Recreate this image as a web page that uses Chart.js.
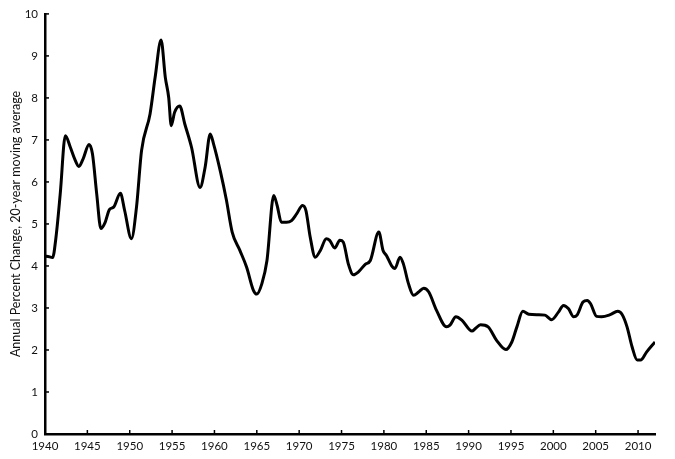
<!DOCTYPE html>
<html>
<head>
<meta charset="utf-8">
<script src="https://cdn.jsdelivr.net/npm/chart.js@4/dist/chart.umd.min.js"></script>
<style>
  html, body { margin: 0; padding: 0; background: #fff; }
  #wrap { width: 675px; height: 459px; }
</style>
</head>
<body>
<div id="wrap"><canvas id="chart" width="675" height="459"></canvas></div>
<script>
// values
const years = [1940.0,1940.2,1940.9,1941.3,1941.8,1942.4,1943.0,1943.5,1944.0,1944.5,1945.2,1945.6,1946.1,1946.6,1947.1,1947.6,1948.1,1948.9,1949.4,1950.2,1950.8,1951.4,1952.4,1953.0,1953.7,1954.2,1954.6,1954.9,1955.3,1955.9,1956.5,1957.3,1958.3,1958.9,1959.5,1959.9,1960.7,1961.4,1962.1,1963.0,1963.8,1964.6,1965.0,1965.6,1966.2,1967.0,1967.4,1967.9,1968.5,1969.1,1969.7,1970.4,1970.8,1971.3,1971.9,1972.5,1973.2,1973.6,1974.2,1974.8,1975.2,1975.8,1976.4,1977.0,1977.8,1978.4,1979.4,1979.9,1980.3,1980.9,1981.3,1981.9,1982.3,1982.9,1983.5,1984.1,1984.7,1985.3,1986.2,1987.4,1987.8,1988.5,1989.2,1990.4,1990.8,1991.4,1992.3,1993.3,1994.4,1995.1,1995.7,1996.4,1997.1,1998.2,1999.0,1999.8,2000.6,2001.2,2001.8,2002.4,2002.8,2003.5,2004.0,2004.4,2005.1,2005.7,2006.7,2007.6,2008.1,2008.7,2009.3,2009.9,2010.3,2011.0,2012.0];
const values = [4.22,4.23,4.20,4.69,5.72,7.10,6.82,6.55,6.37,6.55,6.89,6.67,5.72,4.89,5.04,5.34,5.40,5.73,5.32,4.65,5.40,6.75,7.62,8.49,9.38,8.49,8.01,7.34,7.66,7.81,7.38,6.82,5.87,6.35,7.14,6.90,6.25,5.58,4.80,4.37,3.97,3.42,3.33,3.58,4.13,5.68,5.44,5.04,5.04,5.08,5.24,5.44,5.32,4.69,4.21,4.37,4.65,4.61,4.43,4.61,4.57,4.05,3.79,3.86,4.04,4.13,4.81,4.37,4.25,4.01,3.94,4.21,4.05,3.58,3.30,3.38,3.47,3.38,2.95,2.55,2.59,2.79,2.71,2.45,2.51,2.60,2.55,2.23,2.01,2.19,2.55,2.92,2.85,2.84,2.83,2.72,2.90,3.06,2.98,2.79,2.83,3.14,3.18,3.10,2.80,2.79,2.84,2.92,2.85,2.55,2.07,1.76,1.76,1.95,2.19];
const xTicks = [1940,1945,1950,1955,1960,1965,1970,1975,1980,1985,1990,1995,2000,2005,2010];
const yTicks = [0,1,2,3,4,5,6,7,8,9,10];
const yTitle = "Annual Percent Change, 20-year moving average";

const FONT = "Lato, 'Open Sans', sans-serif";

// small tick marks drawn inside the plot, like the original
const innerTicks = {
    id: "innerTicks",
    afterDatasetsDraw(chart) {
        const ctx = chart.ctx, x = chart.scales.x, y = chart.scales.y;
        ctx.save();
        ctx.strokeStyle = "#000";
        ctx.lineWidth = 1.5;
        xTicks.forEach(v => {
            const px = x.getPixelForValue(v);
            ctx.beginPath(); ctx.moveTo(px, y.bottom); ctx.lineTo(px, y.bottom - 4); ctx.stroke();
        });
        yTicks.forEach(v => {
            const py = y.getPixelForValue(v);
            ctx.beginPath(); ctx.moveTo(x.left, py); ctx.lineTo(x.left + 4, py); ctx.stroke();
        });
        ctx.restore();
    }
};

new Chart(document.getElementById("chart"), {
    type: "line",
    data: {
        datasets: [{
            data: years.map((yr, i) => ({x: yr, y: values[i]})),
            borderColor: "#000",
            borderWidth: 3,
            pointRadius: 0,
            tension: 0.35,
            cubicInterpolationMode: "monotone",
            fill: false
        }]
    },
    options: {
        responsive: false,
        animation: false,
        layout: { padding: { top: 13, right: 20, left: 0, bottom: 0 } },
        plugins: { legend: { display: false }, tooltip: { enabled: false } },
        scales: {
            x: {
                type: "linear",
                min: 1940, max: 2012,
                afterBuildTicks: s => { s.ticks = xTicks.map(v => ({value: v})); },
                afterFit: s => { s.height = 25; },
                border: { color: "#000", width: 2.5 },
                grid: { display: false, drawTicks: false },
                ticks: { color: "#111", padding: 5, maxRotation: 0, autoSkip: false,
                         font: { family: FONT, size: 11.5 }, callback: v => String(v) }
            },
            y: {
                min: 0, max: 10,
                afterBuildTicks: s => { s.ticks = yTicks.map(v => ({value: v})); },
                afterFit: s => { s.width = 45; },
                border: { color: "#000", width: 2.5 },
                grid: { display: false, drawTicks: false },
                ticks: { color: "#111", padding: 7, font: { family: FONT, size: 11.5 } },
                title: { display: true, text: yTitle, color: "#111",
                         font: { family: FONT, size: 12.5 }, padding: { top: 8, bottom: 0 } }
            }
        }
    },
    plugins: [innerTicks]
});
</script>
</body>
</html>
